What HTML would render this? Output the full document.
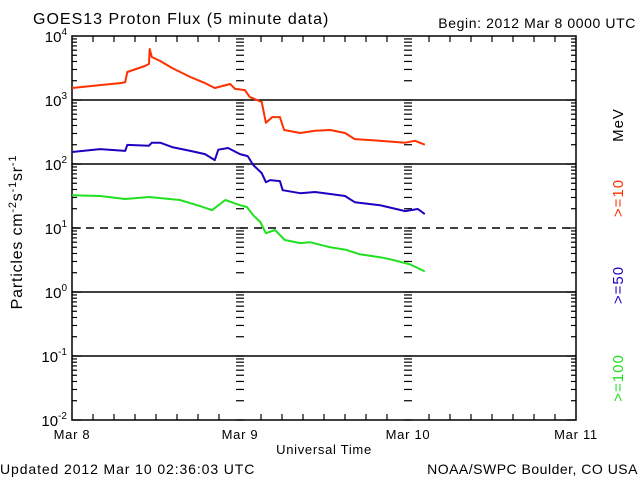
<!DOCTYPE html>
<html><head><meta charset="utf-8"><style>
body{margin:0;background:#fff;}
svg{display:block;font-family:"Liberation Sans",sans-serif;}
</style></head><body>
<svg id="c" width="640" height="480" viewBox="0 0 640 480">
<text x="33" y="24" font-size="16" letter-spacing="1">GOES13 Proton Flux (5 minute data)</text>
<text x="636" y="28" font-size="14" letter-spacing="0.6" text-anchor="end">Begin: 2012 Mar 8 0000 UTC</text>
<text x="0" y="474" font-size="14" letter-spacing="0.9">Updated 2012 Mar 10 02:36:03 UTC</text>
<text x="638" y="474" font-size="14" letter-spacing="0.5" text-anchor="end">NOAA/SWPC Boulder, CO USA</text>
<text x="324" y="454" font-size="13" letter-spacing="0.7" text-anchor="middle">Universal Time</text>
<text transform="translate(22,232) rotate(-90)" font-size="16" letter-spacing="0.8" text-anchor="middle">Particles cm<tspan dy="-6" font-size="11">-2</tspan><tspan dy="6">s</tspan><tspan dy="-6" font-size="11">-1</tspan><tspan dy="6">sr</tspan><tspan dy="-6" font-size="11">-1</tspan></text>
<text transform="translate(623,125) rotate(-90)" font-size="15" letter-spacing="1" text-anchor="middle">MeV</text>
<text transform="translate(623,198) rotate(-90)" font-size="15" letter-spacing="1" fill="#ff3000" text-anchor="middle">&gt;=10</text>
<text transform="translate(623,285) rotate(-90)" font-size="15" letter-spacing="1" fill="#2000c0" text-anchor="middle">&gt;=50</text>
<text transform="translate(623,378) rotate(-90)" font-size="15" letter-spacing="1" fill="#20e020" text-anchor="middle">&gt;=100</text>
<g id="g"></g>
</svg>
<script>
const xTickLabels=["Mar 8","Mar 9","Mar 10","Mar 11"];
const yExps=[-2,-1,0,1,2,3,4];
const redHours=[0,4,6.9,7.6,7.9,10.4,11,11.1,11.4,12.6,14.3,16.9,19,20.4,22.6,23.3,24.7,25.4,27.1,27.7,28.6,29.7,30.3,32.6,34.7,36.9,39,40.4,44,47.6,49,50.4];
const redVals=[1540,1710,1840,1900,2740,3400,3650,6260,4700,4070,3160,2290,1840,1540,1780,1490,1430,1110,930,440,540,540,340,305,330,340,305,245,230,215,230,200];
const blueHours=[0,4,7.6,7.9,11,11.4,12.6,14.3,16.9,19,20.4,20.9,22.3,24,25.1,25.9,27.1,27.7,28.3,29.7,30.1,32.6,34.7,36.9,39,40.4,44,47.6,49.4,50.4];
const blueVals=[154,171,160,199,193,215,215,184,160,143,115,167,178,143,133,96,72,52,56,54,39,35,36.5,34,31.6,25.3,22.7,18.4,19.8,16.5];
const greenHours=[0,4,7.6,11,15.4,18.3,20,21.9,24,25,25.9,26.9,27.7,29,30.4,32.6,34,36.9,39,41.1,44,45.7,48.3,50.4];
const greenVals=[32.6,31.6,28.4,30.5,27.4,22,19,27.4,22.7,21.2,15.8,12.4,8.3,9.3,6.5,5.8,6.0,5.0,4.6,3.9,3.5,3.2,2.7,2.1];
const L=72,R=576,T=36,B=420;
const X=h=>L+(R-L)*h/72;
const Y=v=>T+(B-T)*(4-Math.log10(v))/6;
const NS="http://www.w3.org/2000/svg";
const g=document.getElementById('g');
function el(t,a){const e=document.createElementNS(NS,t);for(const k in a)e.setAttribute(k,a[k]);g.appendChild(e);return e;}
[-1,0,1,2,3].forEach(p=>{
 const e=el('line',{x1:L,x2:R,y1:Y(Math.pow(10,p)),y2:Y(Math.pow(10,p)),stroke:'#000','stroke-width':1.5});
 if(p===1)e.setAttribute('stroke-dasharray','8,6');
 
 
});
const fr=el('rect',{x:L,y:T,width:R-L,height:B-T,fill:'none',stroke:'#000','stroke-width':1.5});


for(let p=-2;p<4;p++){for(let m=1;m<10;m++){
 const y=Y(m*Math.pow(10,p));const len=m===1?9:5;
 [[L,L+len],[R-len,R],[X(24)-4,X(24)+4],[X(48)-4,X(48)+4]].forEach(([a,b])=>{
  const t=el('line',{x1:a,x2:b,y1:y,y2:y,stroke:'#000','stroke-width':1.2});
  
  
 });
}}
yExps.forEach(p=>{
 const t=el('text',{x:L-5,y:Y(Math.pow(10,p))+6,'font-size':15,'text-anchor':'end'});
 t.innerHTML='10<tspan dy="-7" font-size="10">'+p+'</tspan>';
 
 
});
for(let h=0;h<=72;h+=3){const x=X(h);const len=h%24===0?0:6;
 if(len){
 const a=el('line',{x1:x,x2:x,y1:B,y2:B-len,stroke:'#000','stroke-width':1.2});
 
 
 const b=el('line',{x1:x,x2:x,y1:T,y2:T+len,stroke:'#000','stroke-width':1.2});
 
 }
}
xTickLabels.forEach((s,i)=>{
 const t=el('text',{x:X(i*24),y:439,'font-size':13,'letter-spacing':0.7,'text-anchor':'middle'});
 t.textContent=s;
 
 
});
function series(hs,vs,col,name){
 const d=hs.map((h,i)=>(i?'L':'M')+X(h).toFixed(1)+','+Y(vs[i]).toFixed(1)).join(' ');
 const p=el('path',{d:d,fill:'none',stroke:col,'stroke-width':2,'stroke-linejoin':'round'});
 
 
}
series(redHours,redVals,'#ff3000','series-ge10');
series(blueHours,blueVals,'#2000c0','series-ge50');
series(greenHours,greenVals,'#20e020','series-ge100');
</script>
</body></html>
